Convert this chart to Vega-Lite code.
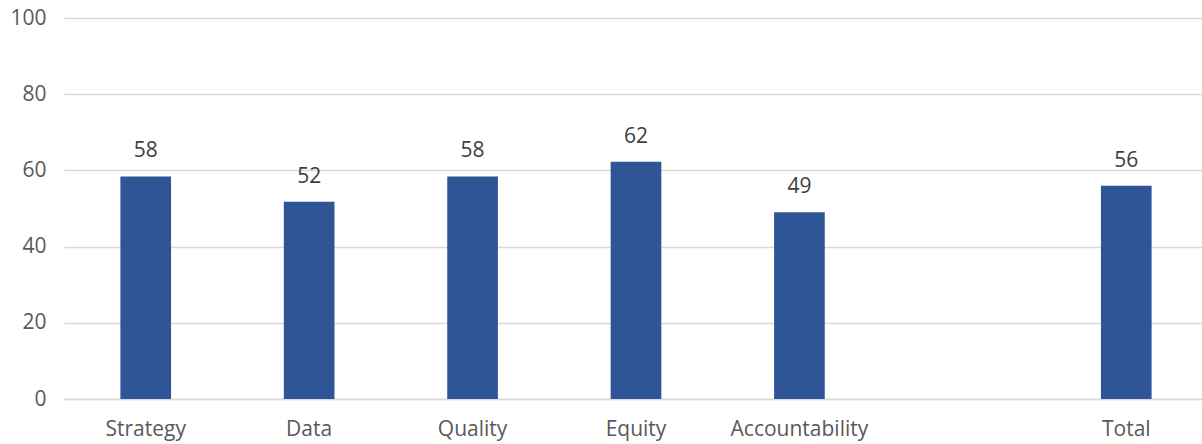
{
  "$schema": "https://vega.github.io/schema/vega-lite/v6.json",
  "autosize": {"type": "none"},
  "padding": {"left": 64, "top": 18, "right": 0, "bottom": 45},
  "width": 1144,
  "height": 381,
  "config": {
    "view": {"stroke": null},
    "font": "Open Sans",
    "axis": {"labelFont": "Open Sans", "labelColor": "#595959", "labelFontSize": 21}
  },
  "data": {
    "values": [
      {"category": "Strategy", "score": 58.4},
      {"category": "Data", "score": 51.8},
      {"category": "Quality", "score": 58.4},
      {"category": "Equity", "score": 62.3},
      {"category": "Accountability", "score": 49.0},
      {"category": "Total", "score": 56.0}
    ]
  },
  "encoding": {
    "x": {
      "field": "category",
      "type": "nominal",
      "sort": null,
      "scale": {"domain": ["Strategy", "Data", "Quality", "Equity", "Accountability", " ", "Total"], "paddingInner": 0.69, "paddingOuter": 0.345},
      "axis": {"title": null, "labelAngle": 0, "ticks": false, "domain": true, "domainColor": "#d9d9d9", "domainWidth": 1.5, "labelPadding": 19}
    },
    "y": {
      "field": "score",
      "type": "quantitative",
      "scale": {"domain": [0, 100]},
      "axis": {"title": null, "values": [0, 20, 40, 60, 80, 100], "ticks": false, "domain": false, "gridColor": "#d9d9d9", "gridWidth": 1.5, "labelPadding": 18}
    }
  },
  "layer": [
    {"mark": {"type": "bar", "color": "#2f5597"}},
    {
      "mark": {"type": "text", "dy": -25, "fontSize": 21, "color": "#404040", "font": "Open Sans"},
      "encoding": {"text": {"field": "score", "type": "quantitative", "format": ".0f"}}
    }
  ]
}
